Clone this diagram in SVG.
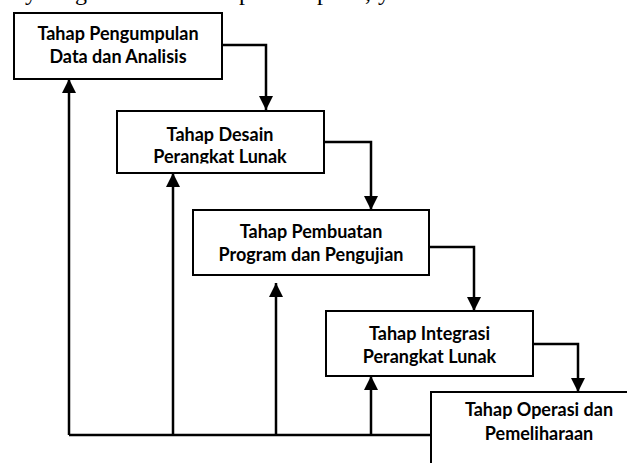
<svg xmlns="http://www.w3.org/2000/svg" width="627" height="463" viewBox="0 0 627 463">
  <defs>
    <style>
      .box { fill: #ffffff; stroke: #000000; stroke-width: 2; }
      .lbl { font-family: Lato, "Liberation Sans", sans-serif; font-weight: 700; font-size: 18px; fill: #000000; text-anchor: middle; }
      .top { font-family: "Liberation Serif", serif; font-size: 24px; fill: #000000; }
      .flow { fill: none; stroke: #000000; stroke-width: 2.5; }
      .fb { fill: none; stroke: #000000; stroke-width: 2.5; }
    </style>
    <marker id="ah" viewBox="0 0 14 14" refX="14" refY="7" markerWidth="14" markerHeight="14" markerUnits="userSpaceOnUse" orient="auto">
      <path d="M0,0 L14,7 L0,14 Z" fill="#000000"/>
    </marker>
    <clipPath id="clip2">
      <rect x="117" y="111" width="206" height="52.5"/>
    </clipPath>
  </defs>
  <rect x="0" y="0" width="627" height="463" fill="#ffffff"/>

  <text class="top" y="0"><tspan x="25">y</tspan><tspan x="75">g</tspan><tspan x="239">p</tspan><tspan x="317">p</tspan><tspan x="365">,</tspan><tspan x="378">y</tspan></text>

  <g id="connectors">
    <polyline class="flow" points="222,45 266,45 266,110" marker-end="url(#ah)"/>
    <polyline class="flow" points="324,142 371,142 371,210" marker-end="url(#ah)"/>
    <polyline class="flow" points="429,247 474,247 474,311" marker-end="url(#ah)"/>
    <polyline class="flow" points="533,344 578,344 578,392" marker-end="url(#ah)"/>
    <polyline class="fb" points="431,435 69,435"/>
    <line class="fb" x1="69" y1="435" x2="69" y2="79" stroke-width="3" marker-end="url(#ah)"/>
    <line class="fb" x1="173" y1="435" x2="173" y2="173" marker-end="url(#ah)"/>
    <line class="fb" x1="276" y1="435" x2="276" y2="283" marker-end="url(#ah)"/>
    <line class="fb" x1="371" y1="435" x2="371" y2="376" marker-end="url(#ah)"/>
  </g>

  <g id="node1">
    <rect class="box" x="14" y="13" width="208" height="66"/>
    <text class="lbl" x="118" y="40">Tahap Pengumpulan</text>
    <text class="lbl" x="118" y="63">Data dan Analisis</text>
  </g>
  <g id="node2">
    <rect class="box" x="117" y="111" width="207" height="62"/>
    <g clip-path="url(#clip2)">
      <text class="lbl" x="220" y="140.5">Tahap Desain</text>
      <text class="lbl" x="220" y="162.5">Perangkat Lunak</text>
    </g>
  </g>
  <g id="node3">
    <rect class="box" x="193" y="210" width="236" height="65"/>
    <text class="lbl" x="311" y="238">Tahap Pembuatan</text>
    <text class="lbl" x="311" y="260.5">Program dan Pengujian</text>
  </g>
  <g id="node4">
    <rect class="box" x="326" y="311" width="207" height="65"/>
    <text class="lbl" x="429.5" y="340">Tahap Integrasi</text>
    <text class="lbl" x="429.5" y="362.5">Perangkat Lunak</text>
  </g>
  <g id="node5">
    <rect class="box" x="431" y="392" width="220" height="90"/>
    <text class="lbl" x="539" y="416">Tahap Operasi dan</text>
    <text class="lbl" x="539" y="440">Pemeliharaan</text>
  </g>
</svg>
